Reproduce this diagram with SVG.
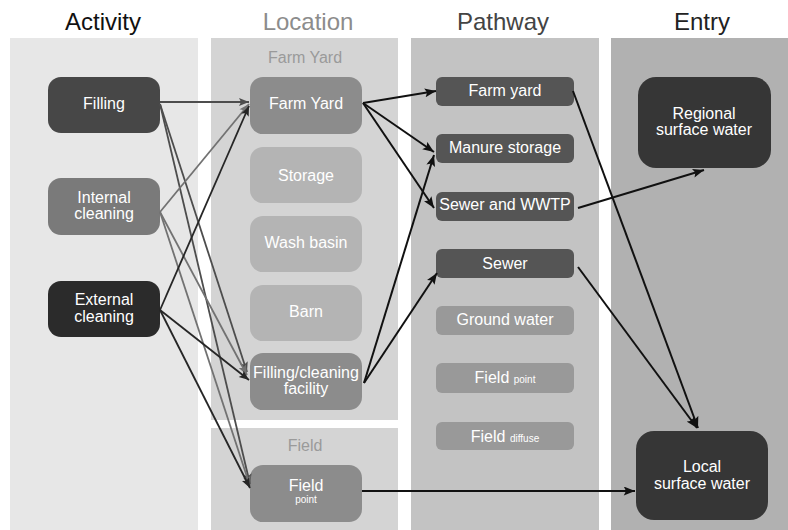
<svg xmlns="http://www.w3.org/2000/svg" width="788" height="530" viewBox="0 0 788 530">
<defs>
<style>
text{font-family:"Liberation Sans",Arial,sans-serif;text-anchor:middle}
.hdr{font-size:24px}
.t{font-size:16px;fill:#fff}
.lbl{font-size:16px;fill:#9a9a9a}
.small{font-size:10px;fill:#fff}
.e1{stroke:#4d4d4d;stroke-width:1.8;fill:none;marker-end:url(#a1)}
.e2{stroke:#727272;stroke-width:1.8;fill:none;marker-end:url(#a2)}
.e3{stroke:#262626;stroke-width:1.8;fill:none;marker-end:url(#a3)}
.e4{stroke:#111;stroke-width:2;fill:none;marker-end:url(#a4)}
</style>
<marker id="a1" viewBox="0 0 10 8" refX="10" refY="4" markerWidth="11" markerHeight="8" markerUnits="userSpaceOnUse" orient="auto"><path d="M0,0L10,4L0,8L2,4Z" fill="#4d4d4d"/></marker>
<marker id="a2" viewBox="0 0 10 8" refX="10" refY="4" markerWidth="11" markerHeight="8" markerUnits="userSpaceOnUse" orient="auto"><path d="M0,0L10,4L0,8L2,4Z" fill="#727272"/></marker>
<marker id="a3" viewBox="0 0 10 8" refX="10" refY="4" markerWidth="11" markerHeight="8" markerUnits="userSpaceOnUse" orient="auto"><path d="M0,0L10,4L0,8L2,4Z" fill="#262626"/></marker>
<marker id="a4" viewBox="0 0 10 8" refX="10" refY="4" markerWidth="12" markerHeight="9" markerUnits="userSpaceOnUse" orient="auto"><path d="M0,0L10,4L0,8L2,4Z" fill="#111"/></marker>
</defs>
<rect width="788" height="530" fill="#fff"/>
<g id="backgrounds">
<rect x="10" y="38" width="188" height="492" fill="#e7e7e7"/>
<rect x="211" y="38" width="187" height="382" fill="#d4d4d4"/>
<rect x="211" y="428" width="187" height="102" fill="#d4d4d4"/>
<rect x="411" y="38" width="188" height="492" fill="#c3c3c3"/>
<rect x="611" y="38" width="177" height="492" fill="#b1b1b1"/>
</g>
<g id="headers">
<text class="hdr" x="103" y="30" fill="#111">Activity</text>
<text class="hdr" x="308" y="30" fill="#8c8c8c">Location</text>
<text class="hdr" x="503" y="30" fill="#444">Pathway</text>
<text class="hdr" x="702" y="30" fill="#222">Entry</text>
<text class="lbl" x="305" y="63">Farm Yard</text>
<text class="lbl" x="305" y="451">Field</text>
</g>
<g id="act-filling"><rect x="48" y="77" width="112" height="56" rx="13" fill="#474747"/><text class="t" x="104" y="109">Filling</text></g>
<g id="act-internal"><rect x="48" y="178" width="112" height="57" rx="13" fill="#7a7a7a"/><text class="t" x="104" y="203">Internal</text><text class="t" x="104" y="219">cleaning</text></g>
<g id="act-external"><rect x="48" y="281" width="112" height="56" rx="13" fill="#2b2b2b"/><text class="t" x="104" y="305">External</text><text class="t" x="104" y="322">cleaning</text></g>
<g id="loc-farmyard"><rect x="250" y="77" width="112" height="57" rx="13" fill="#8c8c8c"/><text class="t" x="306" y="109">Farm Yard</text></g>
<g id="loc-storage"><rect x="250" y="147" width="112" height="56" rx="13" fill="#b4b4b4"/><text class="t" x="306" y="181">Storage</text></g>
<g id="loc-washbasin"><rect x="250" y="216" width="112" height="56" rx="13" fill="#b4b4b4"/><text class="t" x="306" y="248">Wash basin</text></g>
<g id="loc-barn"><rect x="250" y="285" width="112" height="56" rx="13" fill="#b4b4b4"/><text class="t" x="306" y="317">Barn</text></g>
<g id="loc-facility"><rect x="250" y="353" width="112" height="57" rx="13" fill="#8c8c8c"/><text class="t" x="306" y="378">Filling/cleaning</text><text class="t" x="306" y="394">facility</text></g>
<g id="loc-fieldpoint"><rect x="250" y="465" width="112" height="57" rx="13" fill="#8c8c8c"/><text class="t" x="306" y="491">Field</text><text class="small" x="306" y="503">point</text></g>
<g id="pw-farmyard"><rect x="436" y="77" width="138" height="29" rx="6" fill="#555"/><text class="t" x="505" y="96">Farm yard</text></g>
<g id="pw-manure"><rect x="436" y="134" width="138" height="29" rx="6" fill="#555"/><text class="t" x="505" y="153">Manure storage</text></g>
<g id="pw-wwtp"><rect x="436" y="192" width="138" height="29" rx="6" fill="#555"/><text class="t" x="505" y="210">Sewer and WWTP</text></g>
<g id="pw-sewer"><rect x="436" y="249" width="138" height="29" rx="6" fill="#555"/><text class="t" x="505" y="269">Sewer</text></g>
<g id="pw-ground"><rect x="436" y="306" width="138" height="29" rx="6" fill="#999"/><text class="t" x="505" y="325">Ground water</text></g>
<g id="pw-fieldpoint"><rect x="436" y="363" width="138" height="30" rx="6" fill="#999"/><text class="t" x="505" y="383">Field <tspan font-size="10px">point</tspan></text></g>
<g id="pw-fielddiffuse"><rect x="436" y="422" width="138" height="28" rx="6" fill="#999"/><text class="t" x="505" y="442">Field <tspan font-size="10px">diffuse</tspan></text></g>
<g id="en-regional"><rect x="638" y="77" width="133" height="91" rx="18" fill="#363636"/><text class="t" x="704" y="119">Regional</text><text class="t" x="704" y="135">surface water</text></g>
<g id="en-local"><rect x="636" y="431" width="132" height="89" rx="18" fill="#363636"/><text class="t" x="702" y="472">Local</text><text class="t" x="702" y="489">surface water</text></g>
<g id="connectors">
<line class="e1" x1="160" y1="102" x2="249" y2="102"/>
<line class="e1" x1="160" y1="104" x2="247" y2="372"/>
<line class="e1" x1="160" y1="104" x2="250" y2="484"/>
<line class="e2" x1="160" y1="212" x2="249" y2="104"/>
<line class="e2" x1="160" y1="212" x2="247" y2="375"/>
<line class="e2" x1="160" y1="212" x2="250" y2="486"/>
<line class="e3" x1="160" y1="310" x2="249" y2="106"/>
<line class="e3" x1="160" y1="310" x2="249" y2="380"/>
<line class="e3" x1="160" y1="310" x2="250" y2="488"/>
<line class="e4" x1="363" y1="103" x2="436" y2="91"/>
<line class="e4" x1="363" y1="103" x2="434" y2="152"/>
<line class="e4" x1="363" y1="103" x2="434" y2="208"/>
<line class="e4" x1="364" y1="383" x2="434" y2="155"/>
<line class="e4" x1="364" y1="383" x2="437" y2="273"/>
<line class="e4" x1="362" y1="491" x2="635" y2="491"/>
<line class="e4" x1="573" y1="91" x2="698" y2="428"/>
<line class="e4" x1="578" y1="208" x2="704" y2="170"/>
<line class="e4" x1="578" y1="267" x2="697" y2="428"/>
</g>
</svg>
